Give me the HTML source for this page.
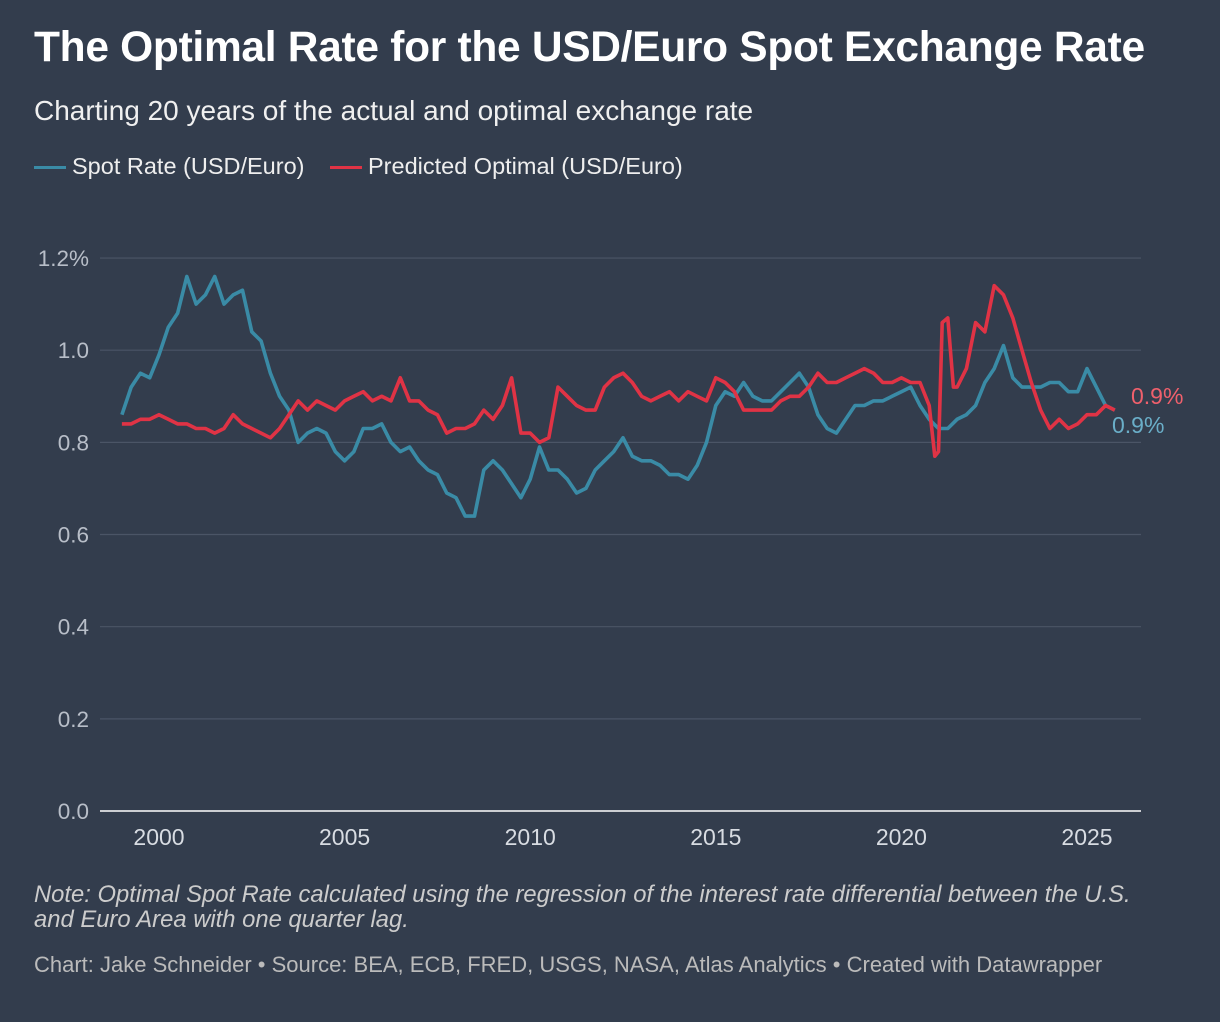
<!DOCTYPE html>
<html><head><meta charset="utf-8"><style>
body{margin:0;width:1220px;height:1022px;background:#333d4d;font-family:"Liberation Sans",sans-serif;color:#fff;overflow:hidden;position:relative}
.t{position:absolute;left:34px;top:24px;font-size:42.5px;font-weight:bold;letter-spacing:-0.3px}
.s{position:absolute;left:34px;top:95px;font-size:28px;color:#f0f0f0}
.lg{position:absolute;top:153px;font-size:23.5px;color:#eee}
.lg i{display:inline-block;width:32px;height:3px;vertical-align:middle;margin-right:6px}
.n{position:absolute;left:34px;top:882px;font-size:23.8px;font-style:italic;color:#ccc;line-height:25px;width:1180px}
.c{position:absolute;left:34px;top:952px;font-size:22px;color:#bbb}
</style></head><body>
<div class="t">The Optimal Rate for the USD/Euro Spot Exchange Rate</div>
<div class="s">Charting 20 years of the actual and optimal exchange rate</div>
<div class="lg" style="left:34px"><i style="background:#3a8ba6"></i>Spot Rate (USD/Euro)</div>
<div class="lg" style="left:330px"><i style="background:#e03345"></i>Predicted Optimal (USD/Euro)</div>
<svg id="chart" width="1220" height="1022" style="position:absolute;left:0;top:0"></svg>
<div class="n">Note: Optimal Spot Rate calculated using the regression of the interest rate differential between the U.S.<br>and Euro Area with one quarter lag.</div>
<div class="c">Chart: Jake Schneider • Source: BEA, ECB, FRED, USGS, NASA, Atlas Analytics • Created with Datawrapper</div>
<script>
const yTicks=[0,0.2,0.4,0.6,0.8,1.0,1.2];
const yTickLabels=["0.0","0.2","0.4","0.6","0.8","1.0","1.2%"];
const xTicks=[2000,2005,2010,2015,2020,2025];
const spotDates=[];for(let i=0;i<=107;i++)spotDates.push(1999+i*0.25);
const spotValues=[0.86,0.92,0.95,0.94,0.99,1.05,1.08,1.16,1.10,1.12,1.16,1.10,1.12,1.13,1.04,1.02,0.95,0.90,0.87,0.80,0.82,0.83,0.82,0.78,0.76,0.78,0.83,0.83,0.84,0.80,0.78,0.79,0.76,0.74,0.73,0.69,0.68,0.64,0.64,0.74,0.76,0.74,0.71,0.68,0.72,0.79,0.74,0.74,0.72,0.69,0.70,0.74,0.76,0.78,0.81,0.77,0.76,0.76,0.75,0.73,0.73,0.72,0.75,0.80,0.88,0.91,0.90,0.93,0.90,0.89,0.89,0.91,0.93,0.95,0.92,0.86,0.83,0.82,0.85,0.88,0.88,0.89,0.89,0.90,0.91,0.92,0.88,0.85,0.83,0.83,0.85,0.86,0.88,0.93,0.96,1.01,0.94,0.92,0.92,0.92,0.93,0.93,0.91,0.91,0.96,0.92,0.88,0.87];
const predDates=[];for(let i=0;i<=87;i++)predDates.push(1999+i*0.25);
predDates.push(2020.9,2021.0,2021.1,2021.25,2021.4,2021.5,2021.75,2022,2022.25,2022.5,2022.75,2023,2023.25,2023.5,2023.75,2024,2024.25,2024.5,2024.75,2025,2025.25,2025.5,2025.75);
const predValues=[0.84,0.84,0.85,0.85,0.86,0.85,0.84,0.84,0.83,0.83,0.82,0.83,0.86,0.84,0.83,0.82,0.81,0.83,0.86,0.89,0.87,0.89,0.88,0.87,0.89,0.90,0.91,0.89,0.90,0.89,0.94,0.89,0.89,0.87,0.86,0.82,0.83,0.83,0.84,0.87,0.85,0.88,0.94,0.82,0.82,0.80,0.81,0.92,0.90,0.88,0.87,0.87,0.92,0.94,0.95,0.93,0.90,0.89,0.90,0.91,0.89,0.91,0.90,0.89,0.94,0.93,0.91,0.87,0.87,0.87,0.87,0.89,0.90,0.90,0.92,0.95,0.93,0.93,0.94,0.95,0.96,0.95,0.93,0.93,0.94,0.93,0.93,0.88,
0.77,0.78,1.06,1.07,0.92,0.92,0.96,1.06,1.04,1.14,1.12,1.07,1.00,0.93,0.87,0.83,0.85,0.83,0.84,0.86,0.86,0.88,0.87];
const X=d=>159+(d-2000)*37.12;
const Y=v=>811-v*460.8;
const svg=document.getElementById('chart');
const NS='http://www.w3.org/2000/svg';
function mk(t,a){const e=document.createElementNS(NS,t);for(const k in a)e.setAttribute(k,a[k]);svg.appendChild(e);return e;}
yTicks.forEach((v,i)=>{
 const l=mk('line',{x1:100,x2:1141,y1:Y(v),y2:Y(v),stroke:v===0?'#ffffff':'#4b5566','stroke-width':v===0?1.5:1.2});
 
 
 const t=mk('text',{x:89,y:Y(v)+8,'text-anchor':'end',fill:'#b8bec8','font-size':22.5,'font-family':'Liberation Sans, sans-serif'});
 t.textContent=yTickLabels[i];
 
 
});
xTicks.forEach(v=>{
 const t=mk('text',{x:X(v),y:845,'text-anchor':'middle',fill:'#d8dce2','font-size':23,'font-family':'Liberation Sans, sans-serif'});
 t.textContent=v;
 
 
});
function line(d,v,c,name){
 const p=mk('path',{d:v.map((y,i)=>(i?'L':'M')+X(d[i]).toFixed(1)+','+Y(y).toFixed(1)).join(''),fill:'none',stroke:c,'stroke-width':3.6,'stroke-linejoin':'round'});
 
 
}
line(spotDates,spotValues,'#3a8ba6','spot-rate-line');
line(predDates,predValues,'#e03345','predicted-optimal-line');
const l1=mk('text',{x:1131,y:Y(predValues[predValues.length-1])-6,fill:'#f0606c','font-size':23,'font-family':'Liberation Sans, sans-serif'});
l1.textContent=predValues[predValues.length-1].toFixed(1)+'%';


const l2=mk('text',{x:1112,y:Y(spotValues[spotValues.length-1])+23,fill:'#6aaec8','font-size':23,'font-family':'Liberation Sans, sans-serif'});
l2.textContent=spotValues[spotValues.length-1].toFixed(1)+'%';


</script>
</body></html>
